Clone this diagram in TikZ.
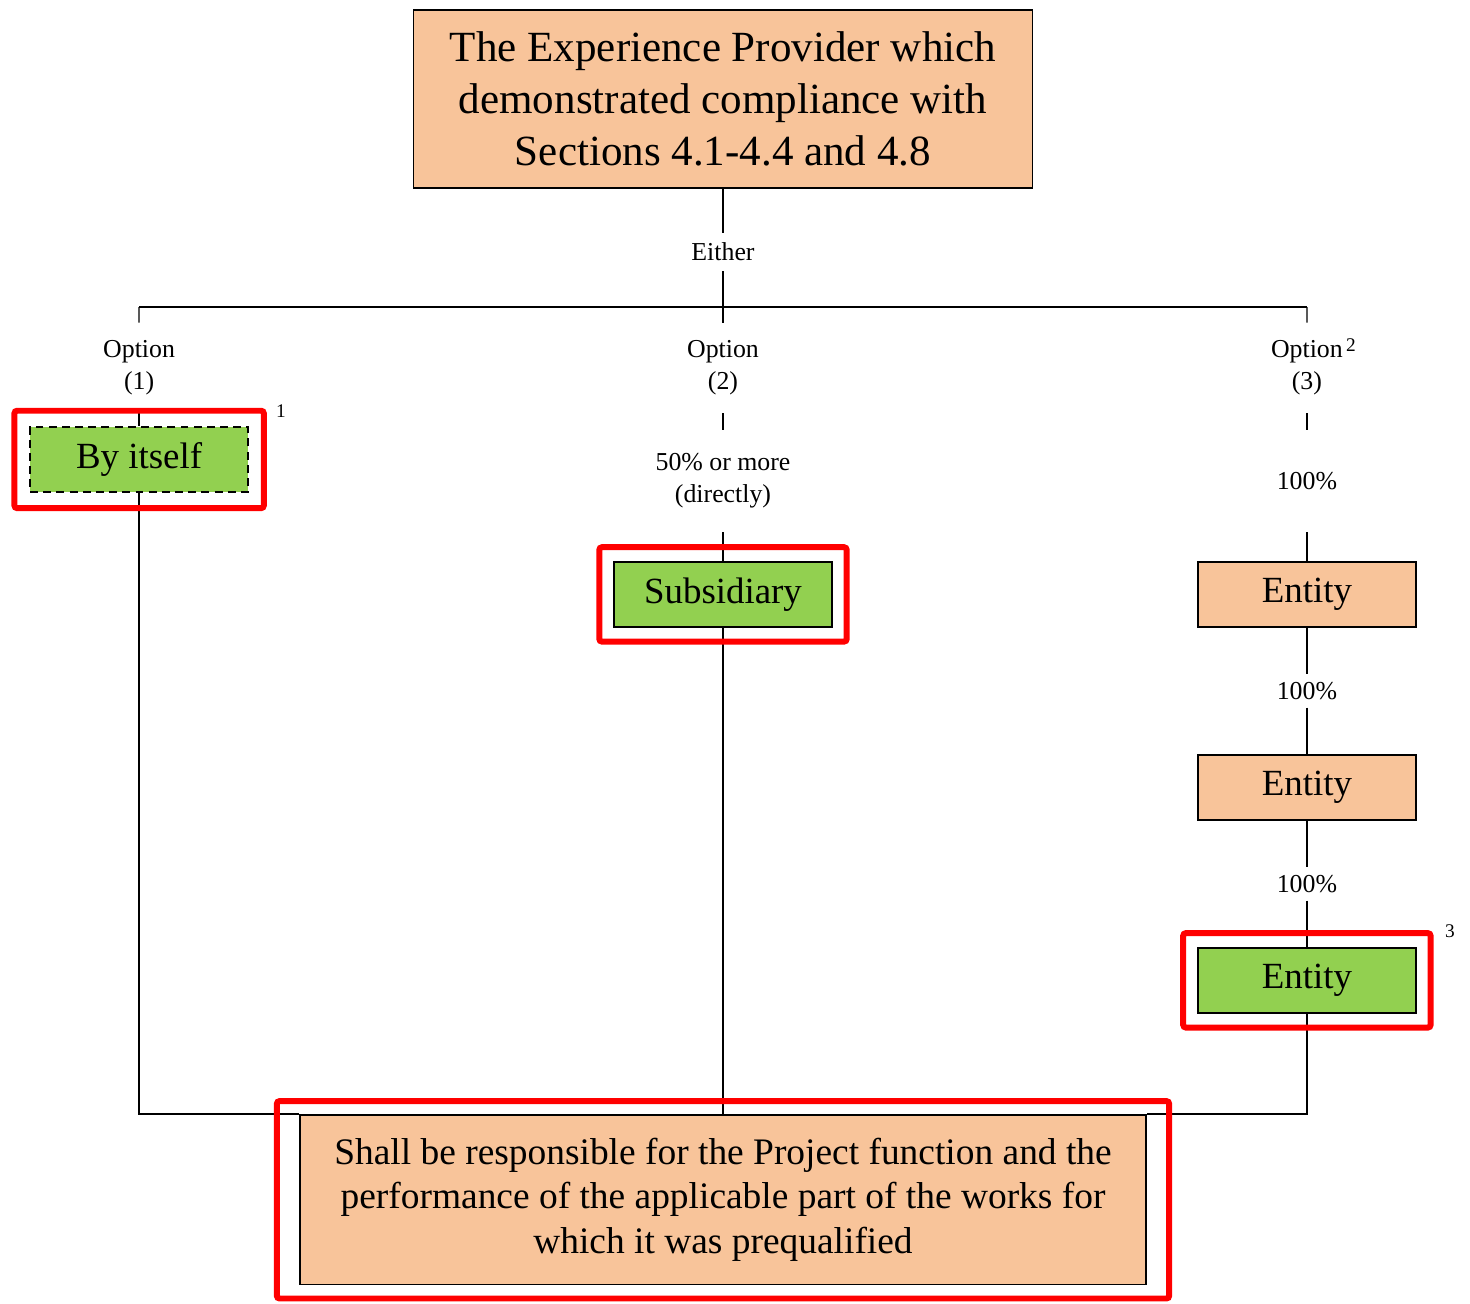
\documentclass[tikz,border=0pt]{standalone}
\usepackage{fontspec}
\setmainfont{Liberation Serif}
\usetikzlibrary{positioning,fit,calc}

\definecolor{peach}{HTML}{F8C49A}
\definecolor{leaf}{HTML}{92D050}

\begin{document}
\begin{tikzpicture}[%
    x=0.02cm, y=-0.02cm,
    on grid,
    box/.style={draw, line width=0.8pt, minimum width=4.36cm, minimum height=1.3cm, inner sep=0pt, font=\fontsize{21}{25}\selectfont},
    peachbox/.style={box, fill=peach},
    greenbox/.style={box, fill=leaf},
    lbl/.style={align=center, inner sep=0pt, font=\fontsize{14.7}{18}\selectfont},
    note/.style={inner sep=0pt, font=\fontsize{11}{13}\selectfont},
    hl/.style={draw=red, line width=3.4pt, rounded corners=1.5pt},
    link/.style={line width=0.8pt}
  ]
  \useasboundingbox (0,0) rectangle (1470,1303);

  % provider at the top
  \node[draw, fill=peach, line width=0.8pt, minimum width=12.38cm, minimum height=3.56cm,
        align=center, font=\fontsize{24.5}{29.5}\selectfont] (top) at (723,99)
        {The Experience Provider which\\demonstrated compliance with\\Sections 4.1-4.4 and 4.8};
  \node[lbl, minimum height=0.76cm] (either) [below=3.06cm of top] {Either};

  % the three options
  \node[lbl, minimum height=1.8cm] (opt2) [below=2.32cm of either] {Option\\(2)};
  \node[lbl, minimum height=1.8cm] (opt1) [left=11.68cm of opt2] {Option\\(1)};
  \node[lbl, minimum height=1.8cm] (opt3) [right=11.68cm of opt2] {Option\\(3)};
  \coordinate (busL) at (139,307);
  \coordinate (busR) at (1307,307);

  \node[greenbox, dashed, dash pattern=on 4.5pt off 3pt] (self) [below=1.83cm of opt1] {By itself};

  \node[lbl, minimum height=2.04cm] (pct2) [below=2.26cm of opt2] {50\% or more\\(directly)};
  \node[greenbox] (sub) [below=2.27cm of pct2] {Subsidiary};

  \node[lbl, minimum height=2.04cm] (pct3) [below=2.26cm of opt3] {100\%};
  \node[peachbox] (ent1) [below=2.27cm of pct3] {Entity};
  \node[lbl, minimum height=0.66cm] (pctA) [below=1.93cm of ent1] {100\%};
  \node[peachbox] (ent2) [below=1.93cm of pctA] {Entity};
  \node[lbl, minimum height=0.66cm] (pctB) [below=1.93cm of ent2] {100\%};
  \node[greenbox] (ent3) [below=1.93cm of pctB] {Entity};

  % result
  \node[draw, fill=peach, line width=0.8pt, minimum width=16.92cm, minimum height=3.4cm,
        align=center, font=\fontsize{21.3}{25.5}\selectfont] (resp) [below=12.11cm of sub]
        {Shall be responsible for the Project function and the\\performance of the applicable part of the works for\\which it was prequalified};

  % footnote marks
  \node[note] (n1) at (281,411) {1};
  \node[note] (n2) at (1351,345) {2};
  \node[note] (n3) at (1450,931) {3};

  % connectors
  \draw[link] (top) -- (either);
  \draw[link] (either) -- (opt2);
  \draw[link] (busL) -- (busR);
  \draw[link] (busL) -- (opt1);
  \draw[link] (busR) -- (opt3);
  \draw[link] (opt1) -- (self);
  \draw[link] (opt2) -- (pct2);
  \draw[link] (pct2) -- (sub);
  \draw[link] (opt3) -- (pct3);
  \draw[link] (pct3) -- (ent1);
  \draw[link] (ent1) -- (pctA);
  \draw[link] (pctA) -- (ent2);
  \draw[link] (ent2) -- (pctB);
  \draw[link] (pctB) -- (ent3);
  \draw[link] (self) |- (resp.north west);
  \draw[link] (sub) -- (resp);
  \draw[link] (ent3) |- (resp.north east);

  % red highlights
  \node[hl, fit=(self), inner xsep=0.3cm, inner ysep=0.31cm] (hl1) {};
  \node[hl, fit=(sub), inner sep=0.28cm] (hl2) {};
  \node[hl, fit=(ent3), inner sep=0.28cm] (hl3) {};
  \node[hl, fit=(resp), inner xsep=0.45cm, inner ysep=0.26cm] (hl4) {};
\end{tikzpicture}
\end{document}
